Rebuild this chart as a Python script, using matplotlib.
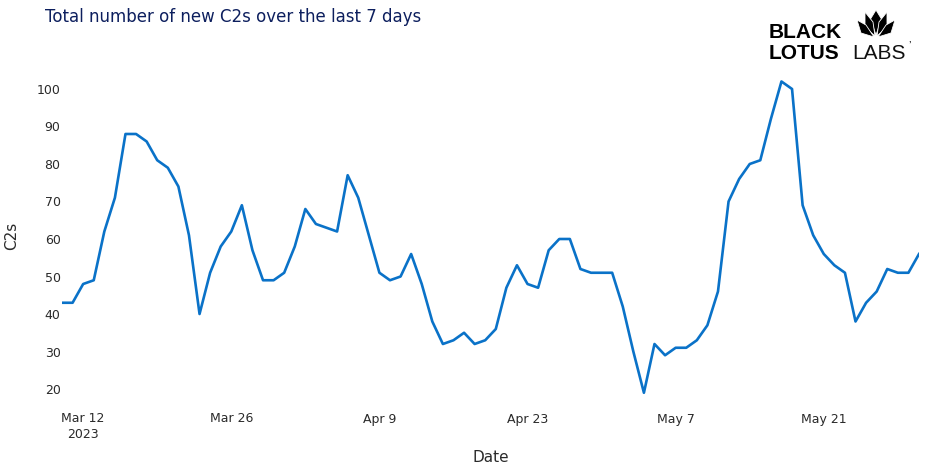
import matplotlib.pyplot as plt
import matplotlib.patches as mpatches
import pandas as pd

# Daily totals of new C2s over the trailing 7 days
start_date = "2023-03-10"
c2_counts = [
    43, 43, 48, 49, 62, 71, 88, 88, 86, 81, 79, 74, 61, 40, 51, 58, 62, 69, 57, 49,
    49, 51, 58, 68, 64, 63, 62, 77, 71, 61, 51, 49, 50, 56, 48, 38, 32, 33, 35, 32,
    33, 36, 47, 53, 48, 47, 57, 60, 60, 52, 51, 51, 51, 42, 30, 19, 32, 29, 31, 31,
    33, 37, 46, 70, 76, 80, 81, 92, 102, 100, 69, 61, 56, 53, 51, 38, 43, 46, 52, 51,
    51, 56,
]
dates = pd.date_range(start_date, periods=len(c2_counts), freq="D")

tick_dates = pd.to_datetime(["2023-03-12", "2023-03-26", "2023-04-09",
                             "2023-04-23", "2023-05-07", "2023-05-21"])
tick_labels = ["Mar 12\n2023", "Mar 26", "Apr 9", "Apr 23", "May 7", "May 21"]
y_ticks = [20, 30, 40, 50, 60, 70, 80, 90, 100]

W, H = 936, 471
fig = plt.figure(figsize=(W / 100, H / 100), dpi=100)
ax = fig.add_axes([62 / W, 1 - 400 / H, (919 - 62) / W, 328 / H])

ax.plot(dates, c2_counts, color="#0A72C8", linewidth=1.9, solid_joinstyle="round")

ax.set_xlim(dates[0], dates[-1])
ax.set_ylim(17.07, 104.53)
ax.set_xticks(tick_dates)
ax.set_xticklabels(tick_labels)
ax.set_yticks(y_ticks)
for s in ax.spines.values():
    s.set_visible(False)
ax.tick_params(axis="both", length=0, labelsize=9, labelcolor="#2a2a2a")
ax.tick_params(axis="x", pad=9)
ax.tick_params(axis="y", pad=1)
ax.set_xlabel("Date", fontsize=11, color="#2a2a2a", labelpad=7)
ax.set_ylabel("C2s", fontsize=11, color="#2a2a2a", labelpad=13)

fig.text(45 / W, 1 - 17 / H, "Total number of new C2s over the last 7 days",
         fontsize=12, color="#0D1F5E", va="center", ha="left")

# logo
fig.text(769 / W, 1 - 32.5 / H, "BLACK", fontsize=15, fontweight="bold",
         color="black", va="center", ha="left", family="Liberation Sans")
fig.text(769 / W, 1 - 53.5 / H, "LOTUS", fontsize=15, fontweight="bold",
         color="black", va="center", ha="left", family="Liberation Sans")
fig.text(852 / W, 1 - 53.5 / H, "LABS", fontsize=15, fontweight="normal",
         color="#111111", va="center", ha="left", family="Liberation Sans")
fig.text(908 / W, 1 - 46 / H, "\u2019", fontsize=8, color="black",
         va="center", ha="left", family="Liberation Sans")


def px(x, y):
    return (x / W, 1 - y / H)


petals = [
    [(876, 10), (881.5, 19), (876, 35), (870.5, 19)],
    [(865, 12), (873, 22), (875, 36), (865, 27)],
    [(887, 12), (879, 22), (877, 36), (887, 27)],
    [(857, 20), (866, 25), (874, 37), (861, 33)],
    [(895, 20), (886, 25), (878, 37), (891, 33)],
]
for pts in petals:
    fig.patches.append(mpatches.Polygon([px(*p) for p in pts], closed=True,
                                        transform=fig.transFigure,
                                        facecolor="black", edgecolor="white",
                                        linewidth=0.6))

fig.savefig("out.png", dpi=100, facecolor="white")
